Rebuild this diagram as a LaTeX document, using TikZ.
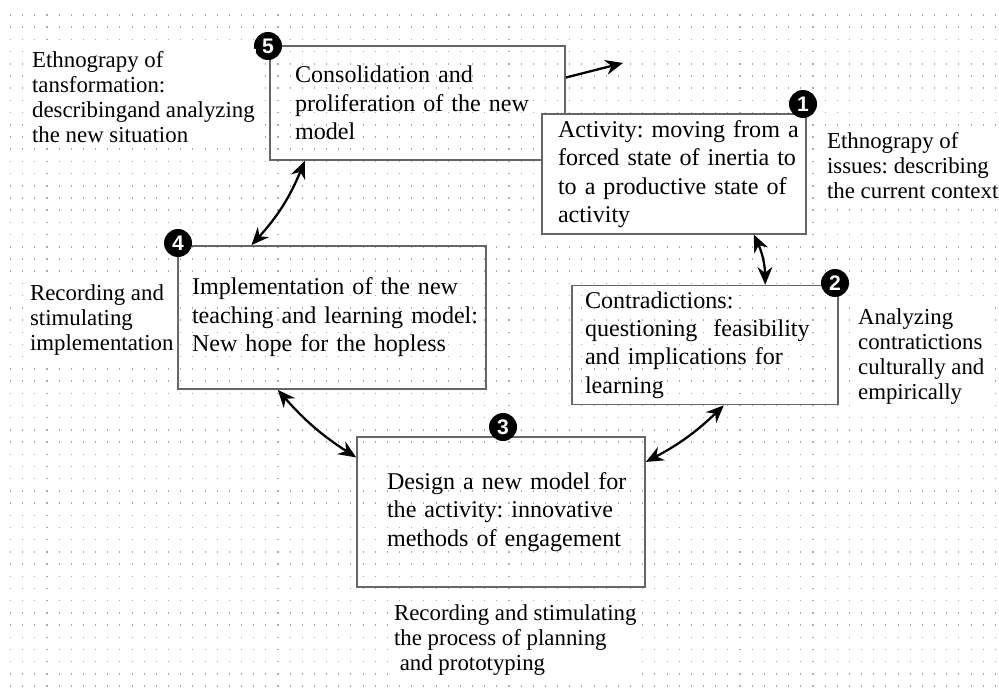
\documentclass[tikz,border=0pt]{standalone}
\usepackage{fontspec}
\setmainfont{Liberation Serif}
\newfontfamily\badgefont{Liberation Sans}
\usetikzlibrary{arrows.meta,calc}

\begin{document}
\frenchspacing
\begin{tikzpicture}[x=0.02cm,y=-0.02cm,
	stage/.style={draw=black!60,line width=1pt,rectangle,align=left,font=\fontsize{13.7}{16.2}\selectfont},
	badge/.style={circle,fill=black,text=white,inner sep=0pt,minimum size=0.56cm,font=\badgefont\bfseries\fontsize{12}{12}\selectfont},
	note/.style={fill=white,inner sep=1pt,align=left,anchor=north west,font=\fontsize{13}{14.2}\selectfont},
	link/.style={{Stealth[length=10pt,width=8.5pt]}-{Stealth[length=10pt,width=8.5pt]},line width=1.3pt},
	dotrow/.style={gray!65,line width=0.8pt,dash pattern=on 0.6pt off 6.32pt}]

	\useasboundingbox (0,0) rectangle (999,689);
	\foreach \r in {0,...,55}
		\draw[dotrow] (10,{15+\r*12.2}) -- (999,{15+\r*12.2});

	% the five stages
	\node[stage,minimum width=5.9cm,minimum height=2.28cm,inner xsep=0.5cm,text width=4.9cm] (b5) at (417.5,103)
		{\mbox{Consolidation and}\\\mbox{proliferation of the new}\\\mbox{model}};
	\node[stage,fill=white,minimum width=5.28cm,minimum height=2.26cm,inner xsep=0.32cm,text width=4.64cm] (b1) at (674,174)
		{\mbox{Activity: moving from a}\\\mbox{forced state of inertia to}\\\mbox{to a productive state of}\\\mbox{activity}};
	\node[stage,minimum width=5.32cm,minimum height=2.28cm,inner xsep=0.26cm,text width=4.8cm] (b2) at (705,345)
		{\mbox{Contradictions:}\\\mbox{questioning\ \ feasibility}\\\mbox{and implications for}\\\mbox{learning}};
	\node[stage,minimum width=6.16cm,minimum height=2.86cm,inner xsep=0.28cm,text width=5.6cm] (b4) at (332,317.5)
		{\mbox{Implementation of the new}\\\mbox{teaching and learning model:}\\\mbox{New hope for the hopless}};
	\node[stage,minimum width=5.76cm,minimum height=3cm,inner xsep=0.6cm,text width=4.56cm] (b3) at (501,512)
		{\mbox{Design a new model for}\\\mbox{the activity: innovative}\\\mbox{methods of engagement}};

	\node[badge] (n5) at (268,46) {5};
	\node[badge] (n1) at (803,104) {1};
	\node[badge] (n2) at (835,283) {2};
	\node[badge] (n3) at (503,427) {3};
	\node[badge] (n4) at (178,243) {4};

	% notes beside the stages
	\node[note] (t5) at (30,49) {Ethnograpy of\\tansformation:\\describingand analyzing\\the new situation};
	\node[note] (t1) at (825,130) {Ethnograpy of\\issues: describing\\the current context};
	\node[note] (t4) at (28,283) {Recording and\\stimulating\\implementation};
	\node[note] (t2) at (856,307) {Analyzing\\contratictions\\culturally and\\empirically};
	\node[note] (t3) at (392,603) {Recording and stimulating\\the process of planning\\\ and prototyping};

	% links
	\coordinate (out) at (623,63);
	\draw[line width=1.3pt,-{Stealth[length=10pt,width=8.5pt]}] ($(b5.north east)!0.28!(b5.south east)$) -- (out);
	\draw[link] ($(b5.south west)!0.12!(b5.south east)$) to[bend left=10] ($(b4.north west)!0.24!(b4.north east)$);
	\draw[link] ($(b1.south west)!0.8!(b1.south east)$) to[bend left=12] ($(b2.north west)!0.725!(b2.north east)$);
	\draw[link] ($(b4.south west)!0.325!(b4.south east)$) to[bend right=8] ($(b3.north west)!0.14!(b3.south west)$);
	\draw[link] ($(b2.south west)!0.57!(b2.south east)$) to[bend left=8] ($(b3.north east)!0.17!(b3.south east)$);

\end{tikzpicture}
\end{document}
